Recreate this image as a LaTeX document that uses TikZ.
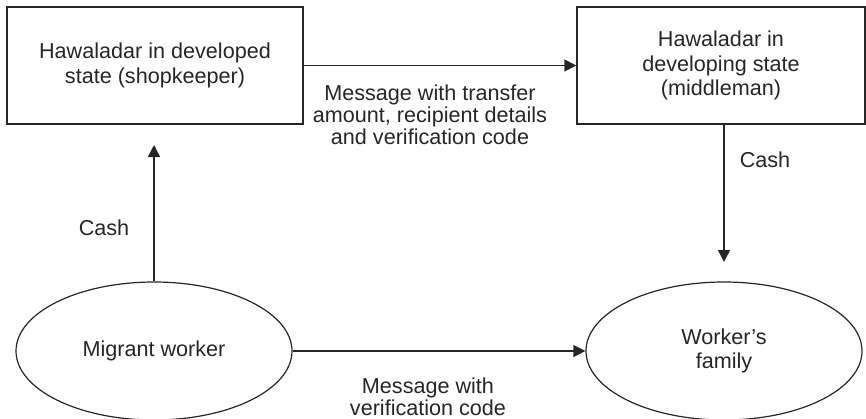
\documentclass[tikz,border=0pt]{standalone}
\usepackage{fontspec}
\setmainfont{Liberation Sans}
\usetikzlibrary{shapes.geometric, arrows.meta}

\begin{document}
\begin{tikzpicture}[
        x=0.5pt, y=-0.5pt,
        >={Triangle[length=6pt, width=6pt]},
        font=\fontsize{10.8}{12.3}\selectfont,
        % block styles
        hawala/.style={rectangle, draw=black!85, line width=0.7pt, minimum width=148pt, minimum height=58.5pt, align=center, inner sep=0pt, text=black!85},
        person/.style={ellipse, draw=black!85, line width=0.6pt, minimum width=138pt, minimum height=69pt, align=center, inner sep=0pt, text=black!85},
        arrow/.style={line width=0.7pt, draw=black!85, ->},
        lbl/.style={align=center, inner sep=0pt, text=black!85, font=\fontsize{10.8}{11.2}\selectfont}
    ]

    \useasboundingbox (0,0) rectangle (866,418);

    % --- 1. the four parties ---
    \node[hawala] (shop) at (155,65.5) {Hawaladar in developed\\state (shopkeeper)};
    \node[hawala, minimum width=144pt] (middle) at (721,65.5) {Hawaladar in\\developing state\\(middleman)};
    \node[person] (migrant) at (154,351) {Migrant worker};
    \node[person] (family) at (724,351) {Worker’s\\family};

    % free ends of the cash arrows
    \coordinate (cashup) at (154,145);
    \coordinate (cashdown) at (724,262);

    % --- 2. flows ---
    \draw[arrow] (migrant.north) -- (cashup);
    \draw[arrow] (shop.east) -- (middle.west);
    \draw[arrow] (middle.south -| family) -- (cashdown);
    \draw[arrow] (migrant.east) -- (family.west);

    % --- 3. labels ---
    \node[lbl] (cashl) at (104,228) {Cash};
    \node[lbl] (cashr) at (765,160) {Cash};
    \node[lbl, anchor=north] (msgtop) at (430,84) {Message with transfer\\amount, recipient details\\and verification code};
    \node[lbl, anchor=north] (msgbot) at (428,377) {Message with\\verification code};

\end{tikzpicture}
\end{document}
